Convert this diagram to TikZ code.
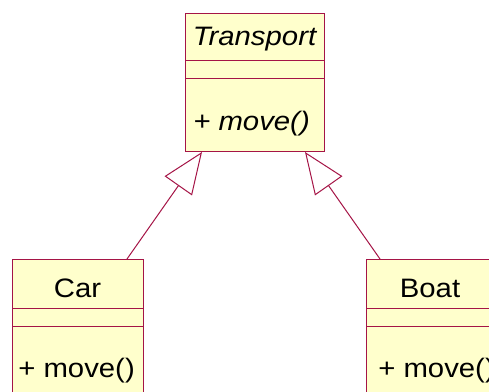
\documentclass[tikz,border=0pt]{standalone}
\usepackage{fontspec}
\setmainfont{Liberation Sans}[FakeStretch=1.1]
\usetikzlibrary{arrows.meta,positioning,calc}
\definecolor{umlline}{RGB}{165,20,70}
\definecolor{umlfill}{RGB}{255,255,204}
\tikzset{
  every picture/.style={font=\fontsize{20}{24}\selectfont},
  classbox/.style={draw=umlline,fill=umlfill,line width=0.75pt,inner sep=0pt,anchor=north west},
  compart/.style={draw=umlline,line width=0.75pt},
  inherit/.style={draw=umlline,line width=0.75pt,-{Triangle[open,length=31pt,width=25pt]}},
  title/.style={inner sep=0pt,anchor=base},
  member/.style={inner sep=0pt,anchor=base west},
}
\begin{document}
\begin{tikzpicture}[x=0.75pt,y=-0.75pt]
  \clip (0,0) rectangle (489,392);
  \fill[white] (0,0) rectangle (489,392);
  % base class
  \node[classbox,minimum width=104.25pt,minimum height=103.5pt] (transport) at (185,13) {};
  \draw[compart] ($(transport.north west)+(0,48)$) -- ($(transport.north east)+(0,48)$);
  \draw[compart] ($(transport.north west)+(0,66)$) -- ($(transport.north east)+(0,66)$);
  \node[title] (transportName) at (254.5,46) {\itshape Transport};
  \node[member] (transportMove) at (193,131) {\itshape + move()};
  % subclasses
  \node[classbox,minimum width=98.25pt,minimum height=108pt] (car) at (12,259) {};
  \draw[compart] ($(car.north west)+(0,49)$) -- ($(car.north east)+(0,49)$);
  \draw[compart] ($(car.north west)+(0,67)$) -- ($(car.north east)+(0,67)$);
  \node[title] (carName) at (77.5,297) {Car};
  \node[member] (carMove) at (18,377) {+ move()};
  \node[classbox,minimum width=98.25pt,minimum height=108pt] (boat) at (366,259) {};
  \draw[compart] ($(boat.north west)+(0,49)$) -- ($(boat.north east)+(0,49)$);
  \draw[compart] ($(boat.north west)+(0,67)$) -- ($(boat.north east)+(0,67)$);
  \node[title] (boatName) at (430,297) {Boat};
  \node[member] (boatMove) at (378,377) {+ move()};
  % generalisation
  \draw[inherit] ($(car.north west)+(115,0)$) -- ($(transport.south west)+(17,0)$);
  \draw[inherit] ($(boat.north west)+(14,0)$) -- ($(transport.south east)+(-20,0)$);
\end{tikzpicture}
\end{document}
